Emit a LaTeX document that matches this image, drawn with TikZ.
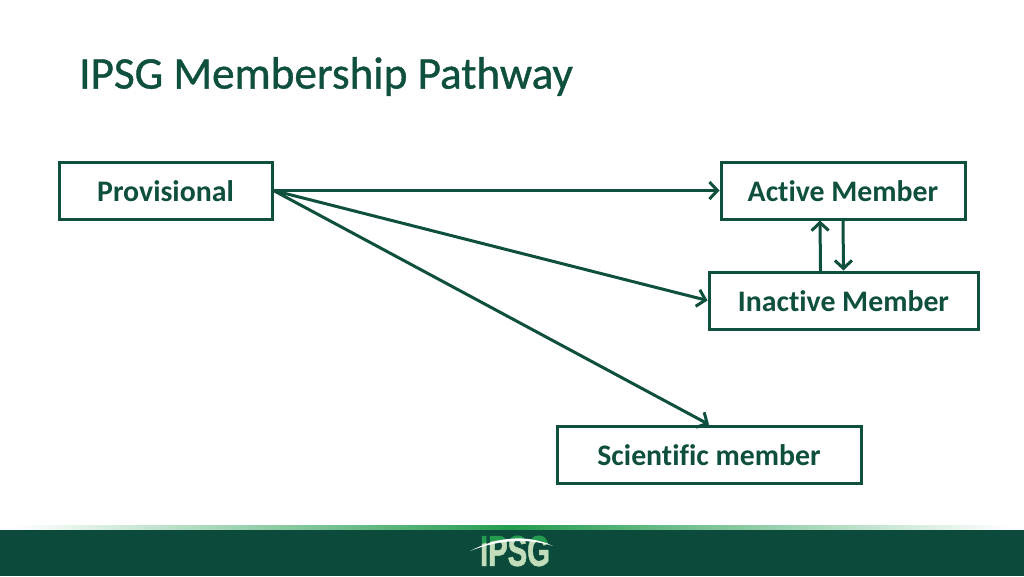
\documentclass[tikz,border=0pt]{standalone}
\usepackage{fontspec}
\setmainfont[Ligatures=NoCommon,FakeBold=0.9]{Carlito}
\newfontfamily\boxfont[Ligatures=NoCommon]{Carlito}
\newfontfamily\logofont[FakeBold=1.4]{Liberation Sans}
\usetikzlibrary{arrows.meta}
\definecolor{ipsgdark}{HTML}{0C4A3C}
\definecolor{ipsgtext}{HTML}{0F4F3E}
\definecolor{ipsgmid}{HTML}{249C50}
\definecolor{ipsgpale}{HTML}{C3DCBB}
\tikzset{
	memberbox/.style={draw=ipsgtext,line width=3pt,inner sep=0pt,text height=22pt,text depth=0pt,minimum height=57pt,font=\boxfont\fontsize{29.8}{32}\selectfont\bfseries,text=ipsgtext},
	path/.style={->,color=ipsgtext,line width=3pt},
	logotext/.style={inner sep=0pt,xscale=.68,font=\logofont\fontsize{43}{43}\selectfont\bfseries}
}
\begin{document}
\begin{tikzpicture}[x=1pt,y=-1pt,line cap=round,line join=miter,>={Straight Barb[length=8pt,width=17pt,line width=3pt]}]
	\useasboundingbox (0,0) rectangle (1024,576);
	% footer
	\shade[left color=white,right color=white,middle color=ipsgmid] (15,525.5) rectangle (1009,531);
	\fill[ipsgdark] (0,530) rectangle (1024,576);
	\node[text=ipsgtext,anchor=west,inner sep=0pt,font=\fontsize{45.2}{48}\selectfont] (title) at (79,76.5) {IPSG Membership Pathway};
	% boxes
	\node[memberbox,minimum width=213pt] (prov) at (165.5,190.5) {Provisional};
	\node[memberbox,minimum width=244pt] (active) at (843,190.5) {Active Member};
	\node[memberbox,minimum width=269pt] (inactive) at (843.5,300.5) {Inactive Member};
	\node[memberbox,minimum width=304pt] (sci) at (709,454.5) {Scientific member};
	% arrows
	\draw[path] (prov.east) -- (active.west);
	\draw[path] (prov.east) -- (inactive.west);
	\draw[path] (prov.east) -- (sci.north);
	\draw[path] ([xshift=-23pt]inactive.north) -- ([xshift=-23pt]active.south);
	\draw[path] (active.south) -- (inactive.north);
	% logo
	\node[logotext,text=ipsgmid] (logotop) at (515,551) {IPSG};
	\begin{scope}
		\clip (470,548) .. controls (495,538) and (525,536) .. (553,545) -- (553,576) -- (470,576) -- cycle;
		\node[logotext,text=ipsgpale] (logobottom) at (515,551) {IPSG};
	\end{scope}
	\fill[white] (470,551) .. controls (495,538) and (525,533) .. (553,546) .. controls (525,537) and (495,541) .. (470,551) -- cycle;
\end{tikzpicture}
\end{document}
